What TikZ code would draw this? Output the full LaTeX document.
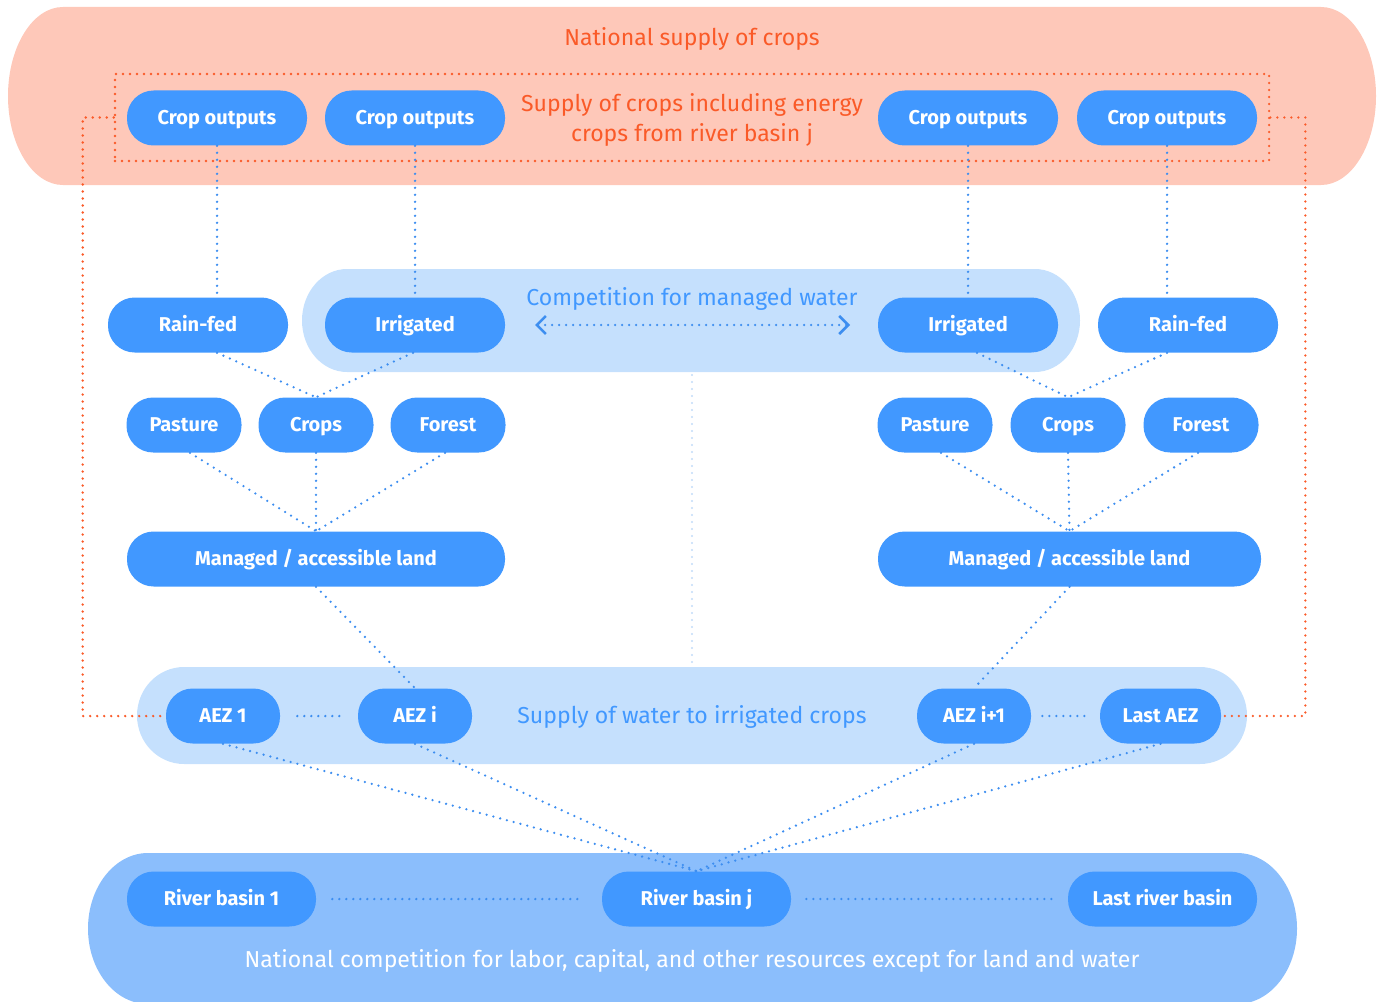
\documentclass[tikz,border=0pt]{standalone}
\usepackage{fontspec}
\setmainfont{Fira Sans}
\usetikzlibrary{arrows.meta}

\definecolor{salmon}{HTML}{FEC8B9}
\definecolor{redline}{HTML}{FA5A28}
\definecolor{nodeblue}{HTML}{4198FF}
\definecolor{paleblue}{HTML}{C5E0FD}
\definecolor{midblue}{HTML}{8BBEFC}
\definecolor{lineblue}{HTML}{3D8EF0}
\definecolor{faintblue}{HTML}{C2DCF8}

% capsule background: style, x1, y1, x2, y2 (page pixels, y downward), end radii rx, ry
\newcommand\capsule[7]{%
  \fill[#1] ({#2+#6},-#3) -- ({#4-#6},-#3)
    arc[start angle=90, end angle=-90, x radius=#6, y radius=#7]
    -- ({#2+#6},-#5)
    arc[start angle=270, end angle=90, x radius=#6, y radius=#7]
    -- cycle;}

\newcommand\regfont{\fontsize{17.3}{22.5}\selectfont}
\newcommand\labfont{\bfseries\fontsize{15}{16}\selectfont}

\begin{document}
\begin{tikzpicture}[x=0.75pt,y=0.75pt,
  pill/.style={fill=nodeblue, text=white, font=\labfont,
    rounded corners=20pt, minimum height=41.25pt, inner sep=0pt,
    text height=10.3pt, text depth=0pt},
  wide/.style={pill, minimum width=135pt},
  small/.style={pill, minimum width=86.25pt},
  dotlink/.style={draw=lineblue, line width=1.9pt, line cap=round,
    dash pattern=on 0pt off 5.25pt},
  redlink/.style={draw=redline, line width=1.9pt, line cap=round,
    dash pattern=on 0pt off 5.25pt},
  faintlink/.style={draw=faintblue, line width=1.6pt, line cap=round,
    dash pattern=on 0pt off 5.25pt},
  caption/.style={font=\regfont, inner sep=0pt, align=center},
]
\useasboundingbox (0,0) rectangle (1380,-1002);

% background groups
\capsule{salmon}{8}{7}{1376}{185}{55}{89}
\capsule{paleblue}{302}{269}{1080}{372}{45}{51.5}
\capsule{paleblue}{137}{667}{1247}{764}{47}{48.5}
\capsule{midblue}{88}{853}{1297}{1004}{60}{75.5}

% national supply of crops
\node[caption, text=redline] (natsupply) at (692,-39) {National supply of crops};
\node[draw=redline, line width=1.9pt, line cap=round, dash pattern=on 0pt off 5.25pt,
      minimum width=865.5pt, minimum height=65.25pt, inner sep=0pt] (supplybox) at (692,-117.5) {};
\node[caption, text=redline] (supplytext) at (692,-120) {Supply of crops including energy\\crops from river basin j};

\node[wide] (co1) at (217,-118) {Crop outputs};
\node[wide] (co2) at (415,-118) {Crop outputs};
\node[wide] (co3) at (968,-118) {Crop outputs};
\node[wide] (co4) at (1167,-118) {Crop outputs};

% water management
\node[wide] (rf1) at (198,-325) {Rain-fed};
\node[wide] (ir1) at (415,-325) {Irrigated};
\node[wide] (ir2) at (968,-325) {Irrigated};
\node[wide] (rf2) at (1188,-325) {Rain-fed};
\node[caption, text=nodeblue] (comptext) at (692,-299) {Competition for managed water};
\coordinate (wl) at (535,-325);
\coordinate (wr) at (850,-325);
\draw[dotlink, {Straight Barb[length=6.75pt, width=13.5pt]}-{Straight Barb[length=6.75pt, width=13.5pt]}] (wl) -- (wr);

% land use
\node[small] (pa1) at (184,-425) {Pasture};
\node[small] (cr1) at (316,-425) {Crops};
\node[small] (fo1) at (448,-425) {Forest};
\node[small] (pa2) at (935,-425) {Pasture};
\node[small] (cr2) at (1068,-425) {Crops};
\node[small] (fo2) at (1201,-425) {Forest};

\node[pill, minimum width=283.5pt] (mg1) at (316,-559) {Managed / accessible land};
\node[pill, minimum width=287.25pt] (mg2) at (1069.5,-559) {Managed / accessible land};

% agro-ecological zones
\node[caption, text=nodeblue] (watertext) at (692,-717) {Supply of water to irrigated crops};
\node[pill, minimum width=85.5pt] (aez1) at (223,-716) {AEZ 1};
\node[pill, minimum width=85.5pt] (aezi) at (415,-716) {AEZ i};
\node[pill, minimum width=85.5pt] (aezn) at (974,-716) {AEZ i+1};
\node[pill, minimum width=90.75pt] (aezl) at (1160.5,-716) {Last AEZ};

% river basins
\node[pill, minimum width=141.75pt] (rb1) at (221.5,-899) {River basin 1};
\node[pill, minimum width=141.75pt] (rbj) at (696.5,-899) {River basin j};
\node[pill, minimum width=141.75pt] (rbl) at (1162.5,-899) {Last river basin};
\node[caption, text=white] (nattext) at (692,-961) {National competition for labor, capital, and other resources except for land and water};

% crop outputs to water regimes
\draw[dotlink] (co1.south) -- (co1.south |- rf1.north);
\draw[dotlink] (co2.south) -- (ir1.north);
\draw[dotlink] (co3.south) -- (ir2.north);
\draw[dotlink] (co4.south) -- (co4.south |- rf2.north);

% water regimes to crops
\draw[dotlink] (co1.south |- rf1.south) -- (cr1.north);
\draw[dotlink] ([xshift=-1.5pt]ir1.south) -- (cr1.north);
\draw[dotlink] ([xshift=6.75pt]ir2.south) -- (cr2.north);
\draw[dotlink] (co4.south |- rf2.south) -- (cr2.north);

% land categories to managed land
\draw[dotlink] ([xshift=4.5pt]pa1.south) -- (mg1.north);
\draw[dotlink] (cr1.south) -- (mg1.north);
\draw[dotlink] ([xshift=-2.25pt]fo1.south) -- (mg1.north);
\draw[dotlink] ([xshift=4.5pt]pa2.south) -- (mg2.north);
\draw[dotlink] (cr2.south) -- (mg2.north);
\draw[dotlink] ([xshift=-2.25pt]fo2.south) -- (mg2.north);

% managed land to zones
\draw[dotlink] (mg1.south) -- (aezi.north);
\draw[dotlink] (mg2.south) -- (aezn.north);

% between zones
\draw[dotlink, shorten <=12.75pt, shorten >=9.75pt] (aez1.east) -- (aezi.west);
\draw[dotlink, shorten <=8.25pt, shorten >=7.5pt] (aezn.east) -- (aezl.west);

% zones to river basin j
\draw[dotlink] (aez1.south) -- (rbj.north);
\draw[dotlink] (aezi.south) -- (rbj.north);
\draw[dotlink] (aezn.south) -- (rbj.north);
\draw[dotlink] (aezl.south) -- (rbj.north);

% between river basins
\draw[dotlink, shorten <=12pt, shorten >=16.5pt] (rb1.east) -- (rbj.west);
\draw[dotlink, shorten <=11.25pt, shorten >=12pt] (rbj.east) -- (rbl.west);

% faint divider
\coordinate (divtop) at (692,-375);
\coordinate (divbot) at (692,-665);
\draw[faintlink] (divtop) -- (divbot);

% river basin supply loop
\draw[redlink] (supplybox.west) -- ++(-31,0) |- (aez1.west);
\draw[redlink] (supplybox.east) -- ++(35,0) |- (aezl.east);
\end{tikzpicture}
\end{document}
